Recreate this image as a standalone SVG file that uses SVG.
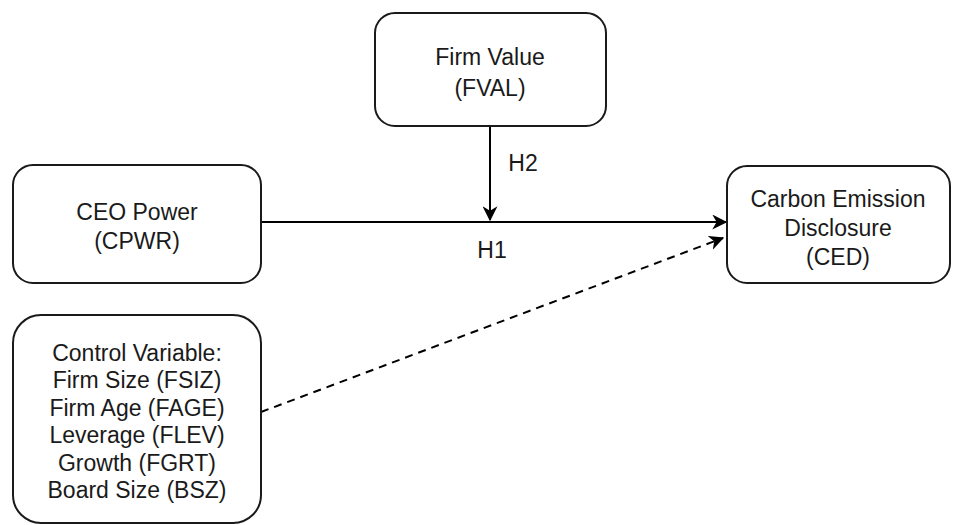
<svg xmlns="http://www.w3.org/2000/svg" width="957" height="525" viewBox="0 0 957 525">
<style>
.box{fill:#fff;stroke:#1a1a1a;stroke-width:2}
.t{font-family:"Liberation Sans",Arial,sans-serif;font-size:23px;fill:#1a1a1a;text-anchor:middle}
.c{stroke:#000;stroke-width:2;fill:none}
</style>
<defs>
<marker id="ah2" viewBox="0 0 12 12" refX="11" refY="6" markerWidth="15" markerHeight="15" markerUnits="userSpaceOnUse" orient="auto">
<path d="M0,0 L12,6 L0,12 L3.5,6 Z" fill="#000"/>
</marker>
</defs>
<rect width="957" height="525" fill="#fff"/>
<g id="connectors">
<line class="c" x1="261" y1="222" x2="726" y2="222" marker-end="url(#ah2)"/>
<line class="c" x1="490" y1="126" x2="490" y2="220" marker-end="url(#ah2)"/>
<line class="c" x1="261" y1="412" x2="723" y2="238" stroke-dasharray="8,6" marker-end="url(#ah2)"/>
<text class="t" x="523" y="171">H2</text>
<text class="t" x="492" y="258">H1</text>
</g>
<g id="fval">
<rect class="box" x="375" y="13" width="231" height="113" rx="20"/>
<text class="t" x="490" y="65">Firm Value</text>
<text class="t" x="490" y="96">(FVAL)</text>
</g>
<g id="cpwr">
<rect class="box" x="13" y="165" width="248" height="118" rx="20"/>
<text class="t" x="137" y="220">CEO Power</text>
<text class="t" x="137" y="249">(CPWR)</text>
</g>
<g id="ced">
<rect class="box" x="727" y="166" width="223" height="117" rx="20"/>
<text class="t" x="838" y="207">Carbon Emission</text>
<text class="t" x="838" y="236">Disclosure</text>
<text class="t" x="838" y="265">(CED)</text>
</g>
<g id="control">
<rect class="box" x="13" y="315" width="248" height="208" rx="28"/>
<text class="t" x="137" y="361">Control Variable:</text>
<text class="t" x="137" y="388">Firm Size (FSIZ)</text>
<text class="t" x="137" y="416">Firm Age (FAGE)</text>
<text class="t" x="137" y="443">Leverage (FLEV)</text>
<text class="t" x="137" y="471">Growth (FGRT)</text>
<text class="t" x="137" y="498">Board Size (BSZ)</text>
</g>
</svg>
